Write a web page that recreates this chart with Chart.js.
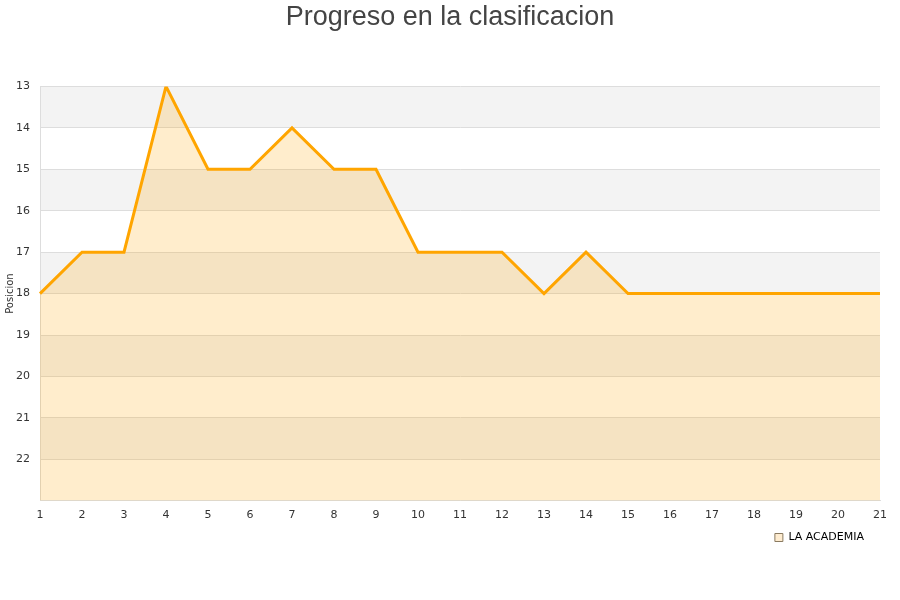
<!DOCTYPE html>
<html><head><meta charset="utf-8">
<script src="https://cdn.jsdelivr.net/npm/chart.js@4/dist/chart.umd.min.js"></script>
<style>html,body{margin:0;padding:0;background:#fff}#wrap{width:900px;height:600px}</style>
</head><body><div id="wrap"><canvas id="c" width="900" height="600"></canvas></div>
<script>
const jornadas = ["1","2","3","4","5","6","7","8","9","10","11","12","13","14","15","16","17","18","19","20","21"];
const posiciones = [18,17,17,13,15,15,14,15,15,17,17,17,18,17,18,18,18,18,18,18,18];
const teamName = "LA ACADEMIA";
const chartTitle = "Progreso en la clasificacion";
const yTitle = "Posicion";
const yMin = 13, yMax = 23;

const bandPlugin = {
  id: 'bands',
  afterLayout(chart) {
    // centre the title over the whole canvas
    const t = chart.titleBlock;
    if (t) { t.left = 0; t.right = chart.width; t.width = chart.width; }
    const l = chart.legend;
    if (l) { l.right = l.right - 6; }
  },
  beforeDraw(chart) {
    const {ctx, chartArea, scales} = chart;
    const y = scales.y;
    ctx.save();
    ctx.fillStyle = '#f3f3f3';
    for (let v = yMin; v < yMax; v += 2) {
      const a = y.getPixelForValue(v), b = y.getPixelForValue(v + 1);
      ctx.fillRect(chartArea.left, Math.min(a, b), chartArea.right - chartArea.left, Math.abs(b - a));
    }
    ctx.restore();
  }
};

new Chart(document.getElementById('c'), {
  type: 'line',
  data: {
    labels: jornadas,
    datasets: [{
      label: teamName,
      data: posiciones,
      borderColor: '#ffa500',
      backgroundColor: 'rgba(255,165,0,0.2)',
      borderWidth: 3,
      pointRadius: 0,
      tension: 0,
      fill: {value: yMax}
    }]
  },
  options: {
    responsive: false,
    animation: false,
    layout: {padding: {left: 0, right: 20, top: 0, bottom: 47}},
    plugins: {
      title: {display: true, text: chartTitle, color: '#444',
        font: {family: 'Liberation Sans, Arial', size: 27, weight: 'normal'},
        padding: {top: 1, bottom: 53}},
      legend: {position: 'bottom', align: 'end',
        labels: {boxWidth: 8, boxHeight: 8, color: '#000',
          font: {family: 'DejaVu Sans', size: 11},
          generateLabels(chart) {
            return [{text: teamName, fillStyle: '#feecd0', strokeStyle: '#8a7a60', lineWidth: 1, datasetIndex: 0}];
          }}},
      tooltip: {enabled: false}
    },
    scales: {
      x: {
        grid: {display: false, drawTicks: false},
        border: {color: '#ddd'},
        ticks: {color: '#333', font: {family: 'DejaVu Sans', size: 11}, padding: 8, maxRotation: 0, autoSkip: false},
        afterFit(s) { s.height = s.height - 8; }
      },
      y: {
        reverse: true, min: yMin, max: yMax,
        grid: {color: '#ddd', drawTicks: false},
        border: {color: '#ddd'},
        ticks: {stepSize: 1, color: '#333', font: {family: 'DejaVu Sans', size: 11}, padding: 10,
          callback: v => v === yMax ? '' : v},
        title: {display: true, text: yTitle, color: '#333', font: {family: 'DejaVu Sans', size: 10}, padding: {top: 4, bottom: 0}},
        afterFit(s) { s.width = 40; }
      }
    }
  },
  plugins: [bandPlugin]
});
</script></body></html>
